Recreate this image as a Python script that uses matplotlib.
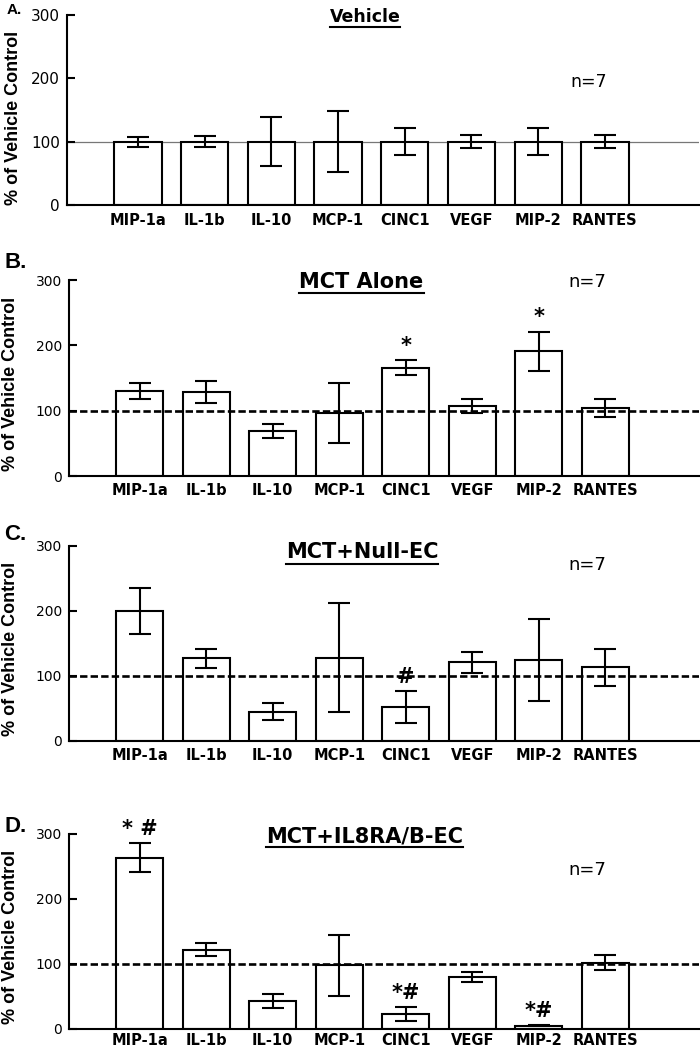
import matplotlib
matplotlib.use('Agg')
import matplotlib.pyplot as plt
from matplotlib.lines import Line2D
import numpy as np

# ---------------- data ----------------
categories = ['MIP-1a', 'IL-1b', 'IL-10', 'MCP-1', 'CINC1', 'VEGF', 'MIP-2', 'RANTES']

vehicle_mean = [100, 100, 100, 100, 100, 100, 100, 100]
vehicle_err = [8, 9, 39, 48, 21, 10.5, 21, 10]

mct_mean = [130, 128, 69, 96, 166, 107, 191, 104]
mct_err = [12, 17, 11, 46, 12, 11, 30, 14]

null_mean = [200, 127, 45, 128, 52, 121, 124, 113]
null_err = [35, 15, 13, 84, 25, 16, 63, 28]

il8_mean = [263, 122, 43, 98, 23, 80, 5, 102]
il8_err = [22, 10, 10, 47, 11, 8, 1, 11]

yticks = [0, 100, 200, 300]
titles = ['Vehicle', 'MCT Alone', 'MCT+Null-EC', 'MCT+IL8RA/B-EC']
letters = ['A.', 'B.', 'C.', 'D.']
n_label = 'n=7'
ylabel = '% of Vehicle Control'

mct_marks = {4: '*', 6: '*'}
null_marks = {4: '#'}
il8_marks = {0: '* #', 4: '*#', 6: '*#'}

# ---------------- layout ----------------
W, H = 700, 1050
fig = plt.figure(figsize=(W / 100, H / 100), dpi=100)


def fx(x):
    return x / W


def fy(y):
    return 1 - y / H


# (left, right, top, bottom) in pixels
boxes = [(67, 699, 15, 205), (69, 699, 280, 476), (69, 699, 545.7, 741), (69, 699, 833.7, 1029)]
means = [vehicle_mean, mct_mean, null_mean, il8_mean]
errs = [vehicle_err, mct_err, null_err, il8_err]
marks = [{}, mct_marks, null_marks, il8_marks]

title_pos = [(365, 17), (361.5, 282), (362, 552.5), (364.5, 836)]
n_pos = [(589, 82), (587, 282), (587, 565), (587, 870)]
letter_pos = [(14, 10), (16, 263), (15, 535), (16, 827)]
ylab_x = [14, 11, 11, 11]
xpads = [6, 5, 5, 3]

x = np.arange(len(categories))
title_texts = []
for k in range(4):
    l, r, t, b = boxes[k]
    ax = fig.add_axes([fx(l), fy(b), (r - l) / W, (b - t) / H])
    ax.bar(x, means[k], width=0.71, color='white', edgecolor='black', linewidth=1.5, zorder=2)
    ax.errorbar(x, means[k], yerr=errs[k], fmt='none', ecolor='black', elinewidth=1.5,
                capsize=8, capthick=1.5, zorder=3)
    if k == 0:
        ax.axhline(100, color='#777777', lw=0.9, zorder=1)
    else:
        ax.axhline(100, color='black', lw=1.9, linestyle=(0, (2.8, 1.2)), zorder=4)
    ax.set_xlim(-1.063, 8.41)
    ax.set_ylim(0, 300)
    ax.set_yticks(yticks)
    ax.set_xticks(x)
    ax.set_xticklabels(categories, fontfamily='DejaVu Sans', fontweight='bold', fontsize=10.5)
    ax.tick_params(axis='x', length=0, pad=xpads[k])
    ax.tick_params(axis='y', direction='in', length=6, width=1.5, pad=5,
                   labelsize=11 if k == 0 else 10)
    for lab in ax.get_yticklabels():
        lab.set_fontfamily('DejaVu Sans')
    for s in ['top', 'right']:
        ax.spines[s].set_visible(False)
    for s in ['left', 'bottom']:
        ax.spines[s].set_linewidth(1.5)

    for i, txt in marks[k].items():
        ax.annotate(txt, xy=(i, means[k][i] + errs[k][i]), xytext=(0, 3),
                    textcoords='offset points', ha='center', va='bottom',
                    fontfamily='DejaVu Sans', fontweight='bold', fontsize=15,
                    annotation_clip=False)

    tx, ty = title_pos[k]
    tt = fig.text(fx(tx), fy(ty), titles[k], ha='center', va='center',
                  fontfamily='DejaVu Sans', fontweight='bold',
                  fontsize=12.5 if k == 0 else 15)
    title_texts.append(tt)

    nx, ny = n_pos[k]
    fig.text(fx(nx), fy(ny), n_label, ha='center', va='center',
             fontfamily='DejaVu Sans', fontsize=12.5 if k == 0 else 13)

    lx, ly = letter_pos[k]
    fig.text(fx(lx), fy(ly), letters[k], ha='center', va='center',
             fontfamily='Liberation Sans', fontweight='bold',
             fontsize=11 if k == 0 else 16)

    fig.text(fx(ylab_x[k]), fy((t + b) / 2 + (8 if k == 0 else 6)), ylabel, rotation=90,
             ha='center', va='center', fontfamily='Liberation Sans', fontweight='bold',
             fontsize=13)

fig.canvas.draw()
renderer = fig.canvas.get_renderer()
for tt in title_texts:
    bb = tt.get_window_extent(renderer)
    yline = bb.y0 - 1
    fig.add_artist(Line2D([bb.x0 / W, bb.x1 / W], [yline / H, yline / H],
                          transform=fig.transFigure, color='black', lw=1.5))

fig.savefig('out.png', dpi=100)
